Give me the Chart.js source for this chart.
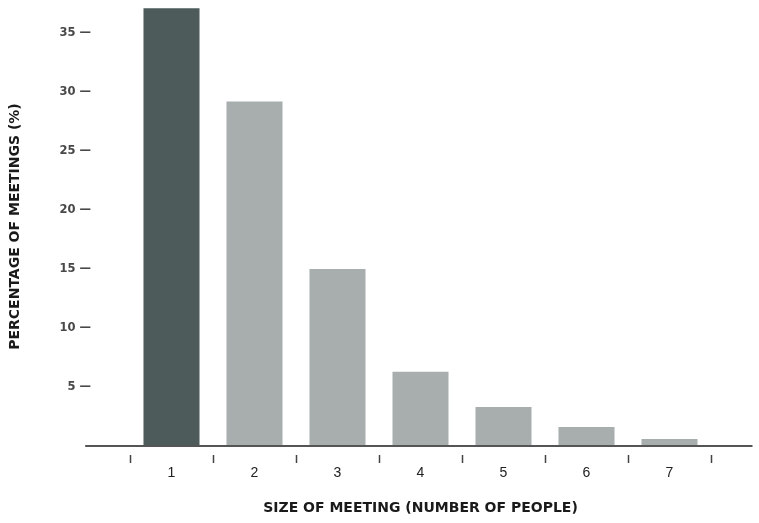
<!DOCTYPE html>
<html>
<head>
<meta charset="utf-8">
<script src="https://cdn.jsdelivr.net/npm/chart.js@4"></script>
<style>
  html, body { margin: 0; padding: 0; background: #fff; }
  #wrap { width: 759px; height: 523px; }
</style>
</head>
<body>
<div id="wrap"><canvas id="meetingChart"></canvas></div>
<script>
// data
const meetingSizes = ['1', '2', '3', '4', '5', '6', '7'];
const meetingShares = [37.1, 29.2, 15.0, 6.3, 3.3, 1.6, 0.6];
const yTickValues = [5, 10, 15, 20, 25, 30, 35];

const barColors = meetingSizes.map((s, i) => i === 0 ? '#4d5b5b' : '#a8aeae');

// baseline runs past the first and last category, like the original
const baselinePlugin = {
  id: 'baseline',
  afterDatasetsDraw(chart) {
    const { ctx, chartArea, scales } = chart;
    const step = (chartArea.right - chartArea.left) / meetingSizes.length;
    const y0 = scales.y.getPixelForValue(0);
    ctx.save();
    ctx.strokeStyle = '#555';
    ctx.lineWidth = 2;
    ctx.beginPath();
    ctx.moveTo(chartArea.left - step * 0.54, y0);
    ctx.lineTo(chartArea.right + step * 0.5, y0);
    ctx.stroke();
    ctx.restore();
  }
};

const titleFont = { family: 'DejaVu Sans', size: 14, weight: 'bold' };

const ctx = document.getElementById('meetingChart').getContext('2d');
new Chart(ctx, {
  type: 'bar',
  data: {
    labels: meetingSizes,
    datasets: [
      {
        data: meetingShares,
        backgroundColor: barColors,
        borderWidth: 0,
        barPercentage: 0.675,
        categoryPercentage: 1,
      },
    ],
  },
  options: {
    responsive: true,
    maintainAspectRatio: false,
    animation: false,
    layout: { padding: { top: 7, right: 48, left: 0, bottom: 0 } },
    plugins: {
      legend: { display: false },
      tooltip: { enabled: false },
    },
    scales: {
      x: {
        border: { display: false },
        grid: {
          offset: true,
          drawOnChartArea: false,
          drawTicks: true,
          tickLength: 18,
          tickWidth: 1.5,
          tickColor: '#444',
          tickBorderDash: [0, 9, 8, 100],
        },
        ticks: {
          color: '#222',
          font: { family: 'Liberation Sans', size: 14 },
          padding: 1,
        },
        title: {
          display: true,
          text: 'SIZE OF MEETING (NUMBER OF PEOPLE)',
          color: '#1a1a1a',
          font: titleFont,
          padding: { top: 17, bottom: 6 },
        },
        afterFit: (scale) => { scale.height = 77; },
      },
      y: {
        min: 0,
        max: 37.2,
        border: { display: false },
        grid: { display: false },
        afterBuildTicks: (scale) => {
          scale.ticks = yTickValues.map((v) => ({ value: v }));
        },
        ticks: {
          color: '#484848',
          font: { family: 'DejaVu Sans', size: 11.5, weight: 'bold' },
          padding: 31,
          callback: (v) => v + ' \u2014',
        },
        title: {
          display: true,
          text: 'PERCENTAGE OF MEETINGS (%)',
          color: '#1a1a1a',
          font: titleFont,
          padding: { top: 7, bottom: 0 },
        },
        afterFit: (scale) => {
          scale.width = 130;
          scale.paddingTop = 0;
          scale.paddingBottom = 0;
        },
      },
    },
  },
  plugins: [baselinePlugin],
});
</script>
</body>
</html>
